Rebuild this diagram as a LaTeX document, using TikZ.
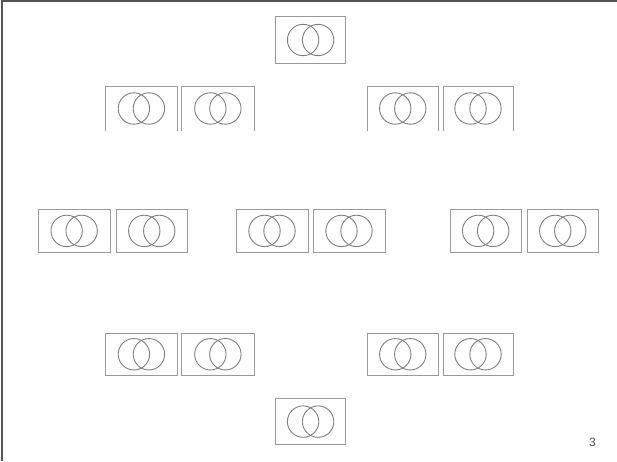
\documentclass[tikz,border=0pt]{standalone}
\usepackage{fontspec}
\setmainfont{Liberation Sans}
\definecolor{boxgray}{HTML}{9A9A9A}
\definecolor{circgray}{HTML}{7F7F7F}
\definecolor{framegray}{HTML}{555555}
\tikzset{
  vbox/.style={draw=boxgray, line width=0.9pt},
  vcirc/.style={draw=circgray, line width=0.9pt},
  frameline/.style={draw=framegray, line width=1.5pt},
  pagenum/.style={text=black!70, font=\fontsize{12}{14}\selectfont, inner sep=0pt}
}
\begin{document}
\begin{tikzpicture}[x=1pt,y=-1pt]
\useasboundingbox (0,0) rectangle (617,461);
\draw[frameline] (2,461) -- (2,1) -- (617,1);
% closed boxes: x1,y1,x2,y2
\foreach \xa/\ya/\xb/\yb in {
  275.7/16.7/345.5/63.3,
  38.3/209.5/110/252.3, 116/209.5/187.5/252.3,
  236/209.5/308/252.3, 313/209.5/385/252.3,
  450/209.5/521.3/252.3, 527/209.5/598.5/252.3,
  105.5/333/177.3/375.5, 181.7/333/254/375.5,
  367/333/438.5/375.5, 443/333/513/375.5,
  275.7/398.7/345.5/444.5}{
  \draw[vbox] (\xa,\ya) rectangle (\xb,\yb);
  \path ({(\xa+\xb)/2},{(\ya+\yb)/2}) coordinate (c);
  \draw[vcirc] ([xshift=-7.5pt]c) circle[radius=15.7];
  \draw[vcirc] ([xshift=7.5pt]c) circle[radius=15.7];
}
% open-bottom boxes
\foreach \xa/\ya/\xb/\yb in {
  105.5/86.7/177.3/131, 181.7/86.7/254/131,
  367/86.7/438.5/131, 443/86.7/513/131}{
  \draw[vbox] (\xa,\yb) -- (\xa,\ya) -- (\xb,\ya) -- (\xb,\yb);
  \path ({(\xa+\xb)/2},108.5) coordinate (c);
  \draw[vcirc] ([xshift=-7.5pt]c) circle[radius=15.7];
  \draw[vcirc] ([xshift=7.5pt]c) circle[radius=15.7];
}
\node[pagenum] (pn) at (592.5,442) {3};
\end{tikzpicture}
\end{document}
